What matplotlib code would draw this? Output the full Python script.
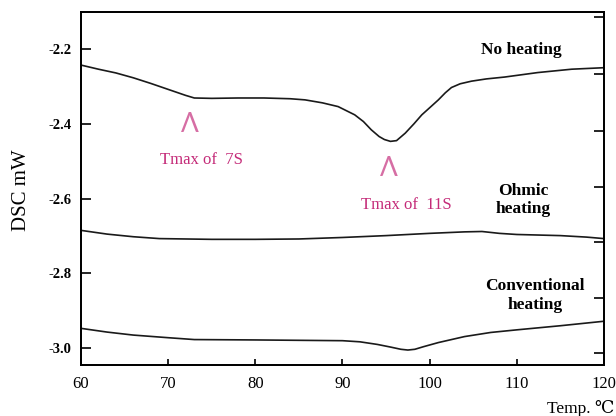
import matplotlib
matplotlib.use("Agg")
import matplotlib.pyplot as plt

plt.rcParams["font.family"] = ["Liberation Serif", "DejaVu Serif"]

# DSC curves (temperature in C, signal in mW)
t_none = [60, 62, 64, 66, 68, 70, 72, 73, 75, 78, 81, 84, 85.7, 87.7, 89.5, 91.4,
          92.4, 93.3, 94.2, 94.8, 95.5, 96.2, 97.2, 98.2, 99.1, 100.1, 101.0, 101.8,
          102.5, 103.5, 104.8, 106.5, 108.6, 112.4, 116.3, 120]
dsc_none = [-2.243, -2.254, -2.264, -2.277, -2.292, -2.308, -2.324, -2.331, -2.332,
            -2.331, -2.331, -2.333, -2.336, -2.344, -2.354, -2.376, -2.394, -2.416,
            -2.434, -2.442, -2.447, -2.445, -2.425, -2.400, -2.376, -2.355, -2.336,
            -2.317, -2.303, -2.293, -2.286, -2.280, -2.275, -2.263, -2.254, -2.250]

t_ohmic = [60, 63, 66, 69, 75, 80, 85, 90, 95, 100, 104, 106, 108, 110, 115, 118, 120]
dsc_ohmic = [-2.685, -2.695, -2.702, -2.707, -2.709, -2.709, -2.708, -2.704, -2.699,
             -2.693, -2.689, -2.688, -2.693, -2.696, -2.699, -2.703, -2.707]

t_conv = [60, 63, 66, 70, 73, 80, 85, 90, 92, 94, 95.5, 96.7, 97.5, 98.3, 99.3, 101,
          104, 107, 110, 115, 120]
dsc_conv = [-2.947, -2.957, -2.965, -2.972, -2.977, -2.978, -2.979, -2.980, -2.983,
            -2.990, -2.997, -3.003, -3.005, -3.003, -2.996, -2.985, -2.969, -2.958,
            -2.951, -2.940, -2.928]

x_ticks = [60, 70, 80, 90, 100, 110, 120]
y_ticks = [-3.0, -2.8, -2.6, -2.4, -2.2]
y_ticklabels = ["-3.0", "-2.8", "-2.6", "-2.4", "-2.2"]
right_ticks = [-3.013, -2.867, -2.715, -2.568, -2.419, -2.267, -2.115]

pink = "#c42a78"
caret_pink = "#d66ea4"

fig = plt.figure(figsize=(6.16, 4.16), dpi=100)
ax = fig.add_axes([0.1315, 0.1226, 0.849, 0.8486])

for t, d in [(t_none, dsc_none), (t_ohmic, dsc_ohmic), (t_conv, dsc_conv)]:
    ax.plot(t, d, color="#1a1a1a", linewidth=1.2)

ax.set_xlim(60, 120)
ax.set_ylim(-3.045, -2.101)
ax.set_xticks(x_ticks)
ax.set_xticklabels([str(v) for v in x_ticks], fontsize=12)
ax.set_yticks(y_ticks)
ax.set_yticklabels(y_ticklabels, fontsize=10.5, fontweight="bold")
ax.tick_params(axis="y", direction="in", length=7, width=1.2, pad=7, left=True, right=False)
ax.tick_params(axis="x", direction="in", length=4.5, width=1.2, pad=8)
for s in ax.spines.values():
    s.set_linewidth(1.3)

ax2 = ax.twinx()
ax2.set_ylim(ax.get_ylim())
ax2.set_yticks(right_ticks)
ax2.set_yticklabels([])
ax2.tick_params(axis="y", direction="in", length=7, width=1.2)
for s in ax2.spines.values():
    s.set_linewidth(1.3)

# curve labels
ax.text(110.5, -2.203, "No heating", ha="center", va="center", fontsize=12.5,
        fontweight="bold")
ax.text(110.7, -2.603, "Ohmic\nheating", ha="center", va="center", fontsize=12.5,
        fontweight="bold", linespacing=1.2)
ax.text(112.1, -2.859, "Conventional\nheating", ha="center", va="center",
        fontsize=12.5, fontweight="bold", linespacing=1.2)

# Tmax markers
ax.text(72.5, -2.403, "\u039b", ha="center", va="center", fontsize=19,
        color=caret_pink, family=["Lato", "DejaVu Sans"], fontweight="normal")
ax.text(73.8, -2.496, "Tmax of  7S", ha="center", va="center", fontsize=12, color=pink)
ax.text(95.3, -2.52, "\u039b", ha="center", va="center", fontsize=19,
        color=caret_pink, family=["Lato", "DejaVu Sans"], fontweight="normal")
ax.text(97.3, -2.616, "Tmax of  11S", ha="center", va="center", fontsize=12, color=pink)

fig.text(22 / 616, 1 - 190 / 416, "DSC mW", rotation=90, ha="center", va="center",
         fontsize=15)
fig.text(614 / 616, 1 - 400 / 416, "Temp. \u2103", ha="right", va="top", fontsize=12.5)

fig.savefig("out.png", dpi=100)
